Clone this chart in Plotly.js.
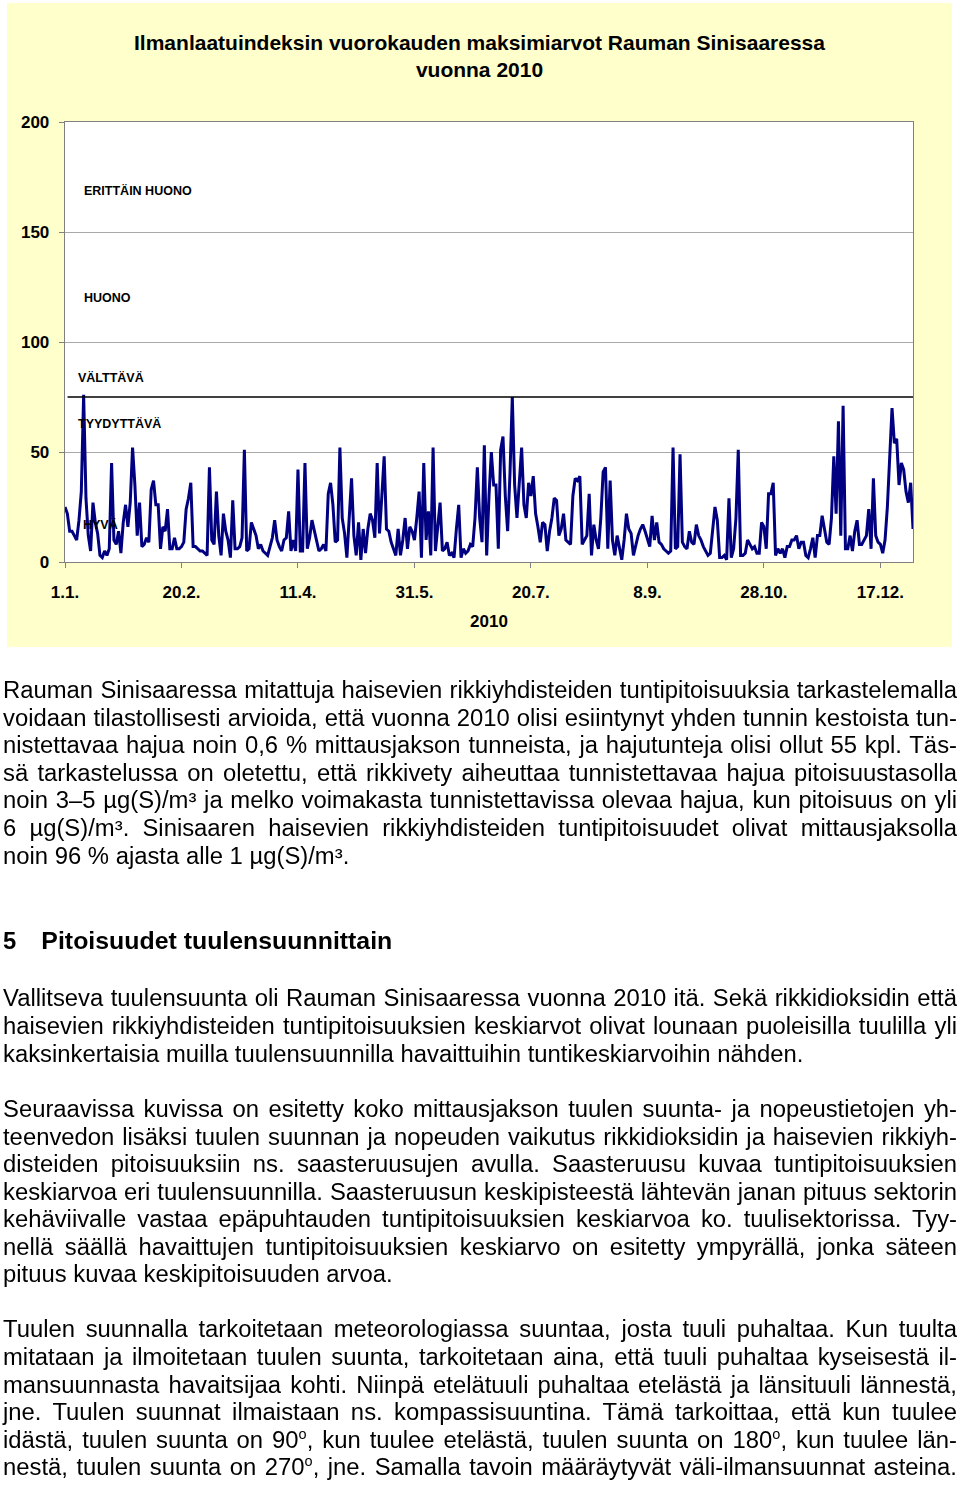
<!DOCTYPE html>
<html><head><meta charset="utf-8">
<script src="https://cdn.plot.ly/plotly-3.0.1.min.js"></script>
<style>
html,body{margin:0;padding:0;background:#fff;}
body{width:960px;height:1485px;position:relative;overflow:hidden;font-family:"Liberation Sans",Arial,sans-serif;color:#000;}
#chart{position:absolute;left:7px;top:3px;width:945px;height:644px;}
#txt{position:absolute;left:3px;top:0;transform-origin:0 0;}
.ln{position:absolute;left:0;white-space:nowrap;font-size:23px;line-height:28px;}
.ln sup{font-size:14px;line-height:0;vertical-align:9px;}
.b{font-weight:bold;}
</style></head><body>
<div id="chart"></div>
<div id="txt"></div>
<script>
// ---- chart data ----
const chartTitle = 'Ilmanlaatuindeksin vuorokauden maksimiarvot Rauman Sinisaaressa<br>vuonna 2010';
const xTitle = '2010';
const year = 2010;
// daily maximum air quality index, 1.1.–31.12.2010
const aqiMax = [
 25,22,14,14,12,10,19,32,76,29,
 12,5,27,18,13,3,2,5,3,6,
 45,10,8,14,4,18,26,16,27,52,
 35,12,27,7,8,11,9,33,37,26,
 26,6,16,14,24,6,6,11,6,6,
 7,9,24,29,36,7,7,6,5,5,
 4,3,43,10,8,32,12,3,22,14,
 10,2,28,6,6,7,11,51,5,6,
 18,15,12,6,8,5,4,3,7,11,
 19,10,7,5,10,11,23,5,10,5,
 42,5,5,45,6,11,19,14,10,5,
 6,8,5,31,36,26,9,10,52,20,
 13,2,20,38,12,3,18,1,15,4,
 15,22,19,11,45,13,30,48,15,14,
 9,6,3,15,3,10,20,6,16,14,
 10,20,32,2,45,10,23,3,52,5,
 15,27,5,6,9,3,4,2,15,26,
 2,6,4,5,8,7,20,43,20,9,
 53,3,30,50,35,35,6,51,57,30,
 14,40,75,35,20,35,52,26,20,36,
 30,39,22,16,9,18,17,5,14,20,
 29,28,12,15,22,10,9,8,30,38,
 37,39,8,10,12,31,3,17,10,6,
 20,41,43,6,37,10,3,12,6,1,
 10,22,15,13,3,8,12,15,17,14,
 10,7,21,10,18,9,8,6,5,4,
 5,52,6,7,49,9,7,6,14,9,
 8,17,12,10,7,5,3,4,15,25,
 19,2,2,3,1,29,2,6,20,51,
 3,3,4,10,8,6,7,4,4,18,
 16,6,31,31,36,3,6,4,6,2,
 7,7,10,10,12,6,9,9,3,2,
 6,11,2,12,12,21,15,9,8,20,
 48,22,64,12,71,6,6,12,5,14,
 19,8,8,10,12,24,6,38,12,9,
 8,4,10,25,45,70,54,56,35,45,
 42,32,27,36,15
];
const tickDates = ['2010-01-01','2010-02-20','2010-04-11','2010-05-31','2010-07-20','2010-09-08','2010-10-28','2010-12-17'];
const tickLabels = ['1.1.','20.2.','11.4.','31.5.','20.7.','8.9.','28.10.','17.12.'];
const yTicks = [0,50,100,150,200];
const bandNames = ['ERITTÄIN HUONO','HUONO','VÄLTTÄVÄ','TYYDYTTÄVÄ','HYVÄ'];
const bandLabelValues = [169,120,84,63,17];
const thresholdValues = [75];

// ---- build chart ----
const days = aqiMax.map((v,i)=>{
  const d = new Date(Date.UTC(year,0,1+i));
  return d.toISOString().slice(0,10);
});
const bandLabelPaperX = [0.020,0.020,0.013,0.013,0.019];
const FONT = '"Liberation Sans", Arial, sans-serif';

const trace = {
  x: days, y: aqiMax, type:'scatter', mode:'lines',
  line:{color:'#000080', width:3}, hoverinfo:'x+y', showlegend:false
};
const annotations = bandNames.map((t,i)=>({
  text:'<b>'+t+'</b>', xref:'paper', yref:'y', x:bandLabelPaperX[i], y:bandLabelValues[i],
  xanchor:'left', yanchor:'middle', showarrow:false, font:{family:FONT,size:12.5,color:'#000'}
}));
const shapes = thresholdValues.map(v=>({
  type:'line', xref:'paper', yref:'y', x0:0.003, x1:1, y0:v, y1:v, line:{color:'#000',width:1.5}, layer:'above'
}));
const layout = {
  width:945, height:644,
  paper_bgcolor:'#FFFFCC', plot_bgcolor:'#FFFFFF',
  margin:{l:58,r:39,t:119,b:85},
  title:{text:'<b>'+chartTitle+'</b>', x:0.5, xref:'container', y:1-47/644, yref:'container', yanchor:'middle',
         font:{family:FONT,size:21,color:'#000'}},
  xaxis:{type:'date', range:['2010-01-01','2010-12-31'], tickvals:tickDates, ticktext:tickLabels,
         ticks:'outside', ticklen:5, tickcolor:'#808080', tickwidth:1, ticklabelstandoff:9,
         tickfont:{family:FONT,size:17,color:'#000',weight:'bold'},
         showgrid:false, zeroline:false, showline:true, linecolor:'#808080', linewidth:1.3, mirror:true,
         title:{text:'<b>'+xTitle+'</b>', standoff:14, font:{family:FONT,size:17,color:'#000'}}},
  yaxis:{range:[0,200], tickvals:yTicks, ticks:'outside', ticklen:5, tickcolor:'#808080', ticklabelstandoff:6,
         tickfont:{family:FONT,size:17,color:'#000',weight:'bold'},
         showgrid:true, gridcolor:'#A8A8A8', gridwidth:1, zeroline:false,
         showline:true, linecolor:'#808080', linewidth:1.3, mirror:true},
  annotations, shapes,
  font:{family:FONT}
};
Plotly.newPlot('chart',[trace],layout,{displayModeBar:false,staticPlot:true});

// ---- body text ----
const lines = [
 ['Rauman Sinisaaressa mitattuja haisevien rikkiyhdisteiden tuntipitoisuuksia tarkastelemalla',691,1],
 ['voidaan tilastollisesti arvioida, että vuonna 2010 olisi esiintynyt yhden tunnin kestoista tun-',719,1],
 ['nistettavaa hajua noin 0,6 % mittausjakson tunneista, ja hajutunteja olisi ollut 55 kpl. Täs-',746,1],
 ['sä tarkastelussa on oletettu, että rikkivety aiheuttaa tunnistettavaa hajua pitoisuustasolla',774,1],
 ['noin 3–5 µg(S)/m³ ja melko voimakasta tunnistettavissa olevaa hajua, kun pitoisuus on yli',801,1],
 ['6 µg(S)/m³. Sinisaaren haisevien rikkiyhdisteiden tuntipitoisuudet olivat mittausjaksolla',829,1],
 ['noin 96 % ajasta alle 1 µg(S)/m³.',857,0,'r1'],
 ['<span class="b">5</span><span class="b" style="position:absolute;left:37px;font-size:24px">Pitoisuudet tuulensuunnittain</span>',942,0],
 ['Vallitseva tuulensuunta oli Rauman Sinisaaressa vuonna 2010 itä. Sekä rikkidioksidin että',999,1],
 ['haisevien rikkiyhdisteiden tuntipitoisuuksien keskiarvot olivat lounaan puoleisilla tuulilla yli',1027,1],
 ['kaksinkertaisia muilla tuulensuunnilla havaittuihin tuntikeskiarvoihin nähden.',1055,0,'r2'],
 ['Seuraavissa kuvissa on esitetty koko mittausjakson tuulen suunta- ja nopeustietojen yh-',1110,1],
 ['teenvedon lisäksi tuulen suunnan ja nopeuden vaikutus rikkidioksidin ja haisevien rikkiyh-',1138,1],
 ['disteiden pitoisuuksiin ns. saasteruusujen avulla. Saasteruusu kuvaa tuntipitoisuuksien',1165,1],
 ['keskiarvoa eri tuulensuunnilla. Saasteruusun keskipisteestä lähtevän janan pituus sektorin',1193,1],
 ['kehäviivalle vastaa epäpuhtauden tuntipitoisuuksien keskiarvoa ko. tuulisektorissa. Tyy-',1220,1],
 ['nellä säällä havaittujen tuntipitoisuuksien keskiarvo on esitetty ympyrällä, jonka säteen',1248,1],
 ['pituus kuvaa keskipitoisuuden arvoa.',1275,0,'r3'],
 ['Tuulen suunnalla tarkoitetaan meteorologiassa suuntaa, josta tuuli puhaltaa. Kun tuulta',1330,1],
 ['mitataan ja ilmoitetaan tuulen suunta, tarkoitetaan aina, että tuuli puhaltaa kyseisestä il-',1358,1],
 ['mansuunnasta havaitsijaa kohti. Niinpä etelätuuli puhaltaa etelästä ja länsituuli lännestä,',1386,1],
 ['jne. Tuulen suunnat ilmaistaan ns. kompassisuuntina. Tämä tarkoittaa, että kun tuulee',1413,1],
 ['idästä, tuulen suunta on 90<sup>o</sup>, kun tuulee etelästä, tuulen suunta on 180<sup>o</sup>, kun tuulee län-',1441,1],
 ['nestä, tuulen suunta on 270<sup>o</sup>, jne. Samalla tavoin määräytyvät väli-ilmansuunnat asteina.',1468,1]
];
const refWidths = {r1:347, r2:802, r3:388};
const txt = document.getElementById('txt');
const els = lines.map(l=>{
  const d = document.createElement('div');
  d.className='ln';
  d.style.top = (l[1]-15)+'px';
  d.innerHTML = l[0];
  txt.appendChild(d);
  return d;
});
let ratios=[];
lines.forEach((l,i)=>{ if(l[3]) ratios.push(refWidths[l[3]]/els[i].getBoundingClientRect().width); });
const sx = ratios.reduce((a,b)=>a+b,0)/ratios.length;
const W = 954/sx;
lines.forEach((l,i)=>{
  if(!l[2]) return;
  const el = els[i];
  const w = el.getBoundingClientRect().width;
  const n = (el.textContent.match(/ /g)||[]).length;
  if(n>0) el.style.wordSpacing = ((W-w)/n)+'px';
});
txt.style.transform = 'scaleX('+sx+')';
</script>
</body></html>
